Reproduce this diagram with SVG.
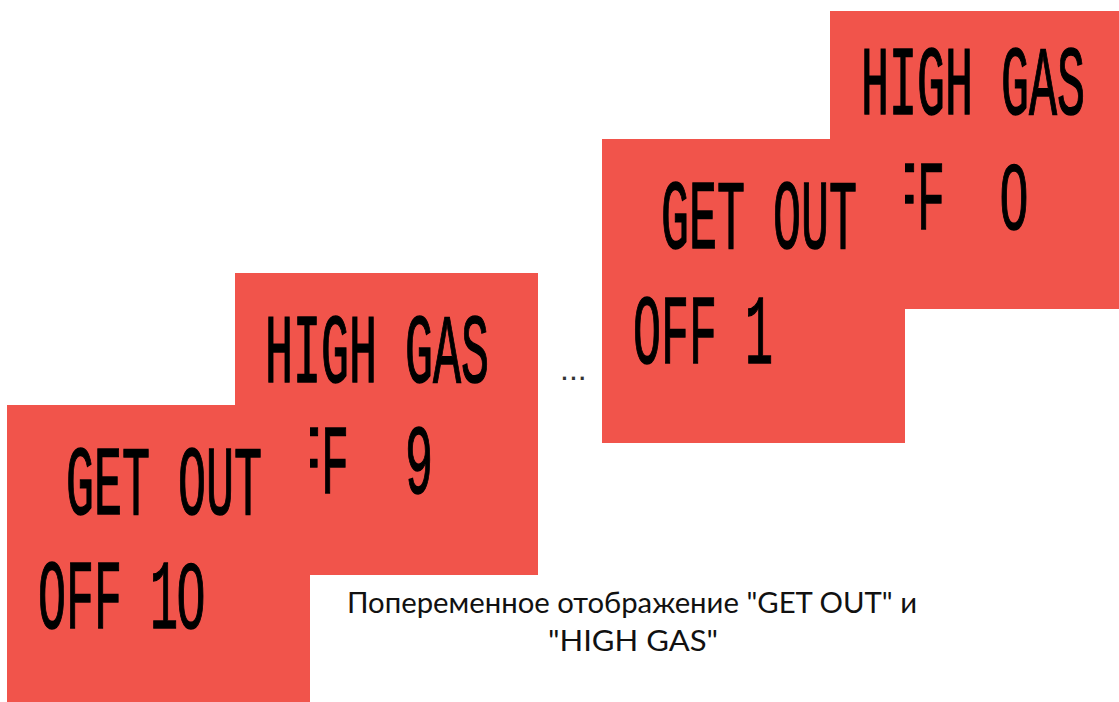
<svg xmlns="http://www.w3.org/2000/svg" width="1119" height="702" viewBox="0 0 1119 702">
<style>
.panel{fill:#F1544B;}
.lcd{font-family:"Liberation Mono","DejaVu Sans Mono",monospace;font-weight:normal;font-size:98px;fill:#000;stroke:#000;stroke-width:1.5px;}
.zero{font-family:"Liberation Sans",sans-serif;font-weight:normal;font-size:92px;fill:#000;stroke:#000;stroke-width:1.5px;}
.cap{font-family:Lato,"Noto Sans",sans-serif;font-size:29px;fill:#111;text-anchor:middle;}
.dots{font-family:"Liberation Sans",sans-serif;font-size:32px;fill:#333;}
</style>
<rect width="1119" height="702" fill="#fff"/>
<g id="screen-d">
<rect class="panel" x="830" y="11" width="289" height="298"/>
<text class="lcd" x="861" y="114" textLength="224" lengthAdjust="spacingAndGlyphs">HIGH GAS</text>
<text class="lcd" x="861" y="229" textLength="84" lengthAdjust="spacingAndGlyphs">OFF</text>
<text class="zero" x="1000" y="229" textLength="28" lengthAdjust="spacingAndGlyphs">0</text>
</g>
<g id="screen-c">
<rect class="panel" x="602" y="139" width="303" height="304"/>
<text class="lcd" x="661" y="248" textLength="196" lengthAdjust="spacingAndGlyphs">GET OUT</text>
<text class="lcd" x="633" y="363" textLength="140" lengthAdjust="spacingAndGlyphs">OFF 1</text>
</g>
<g id="screen-b">
<rect class="panel" x="235" y="273" width="303" height="302"/>
<text class="lcd" x="265" y="382" textLength="224" lengthAdjust="spacingAndGlyphs">HIGH GAS</text>
<text class="lcd" x="265" y="493" textLength="84" lengthAdjust="spacingAndGlyphs">OFF</text>
<text class="lcd" x="405" y="493" textLength="28" lengthAdjust="spacingAndGlyphs">9</text>
</g>
<g id="screen-a">
<rect class="panel" x="7" y="405" width="303" height="297"/>
<text class="lcd" x="66" y="514" textLength="196" lengthAdjust="spacingAndGlyphs">GET OUT</text>
<text class="lcd" x="38" y="628" textLength="140" lengthAdjust="spacingAndGlyphs">OFF 1</text>
<text class="zero" x="177" y="628" textLength="28" lengthAdjust="spacingAndGlyphs">0</text>
</g>
<g id="ellipsis">
<text class="dots" x="560" y="380">...</text>
</g>
<g id="caption">
<text class="cap" x="632" y="613" textLength="570" lengthAdjust="spacingAndGlyphs">Попеременное отображение "GET OUT" и</text>
<text class="cap" x="633" y="651" textLength="170" lengthAdjust="spacingAndGlyphs">"HIGH GAS"</text>
</g>
<g id="connectors"></g>
</svg>
